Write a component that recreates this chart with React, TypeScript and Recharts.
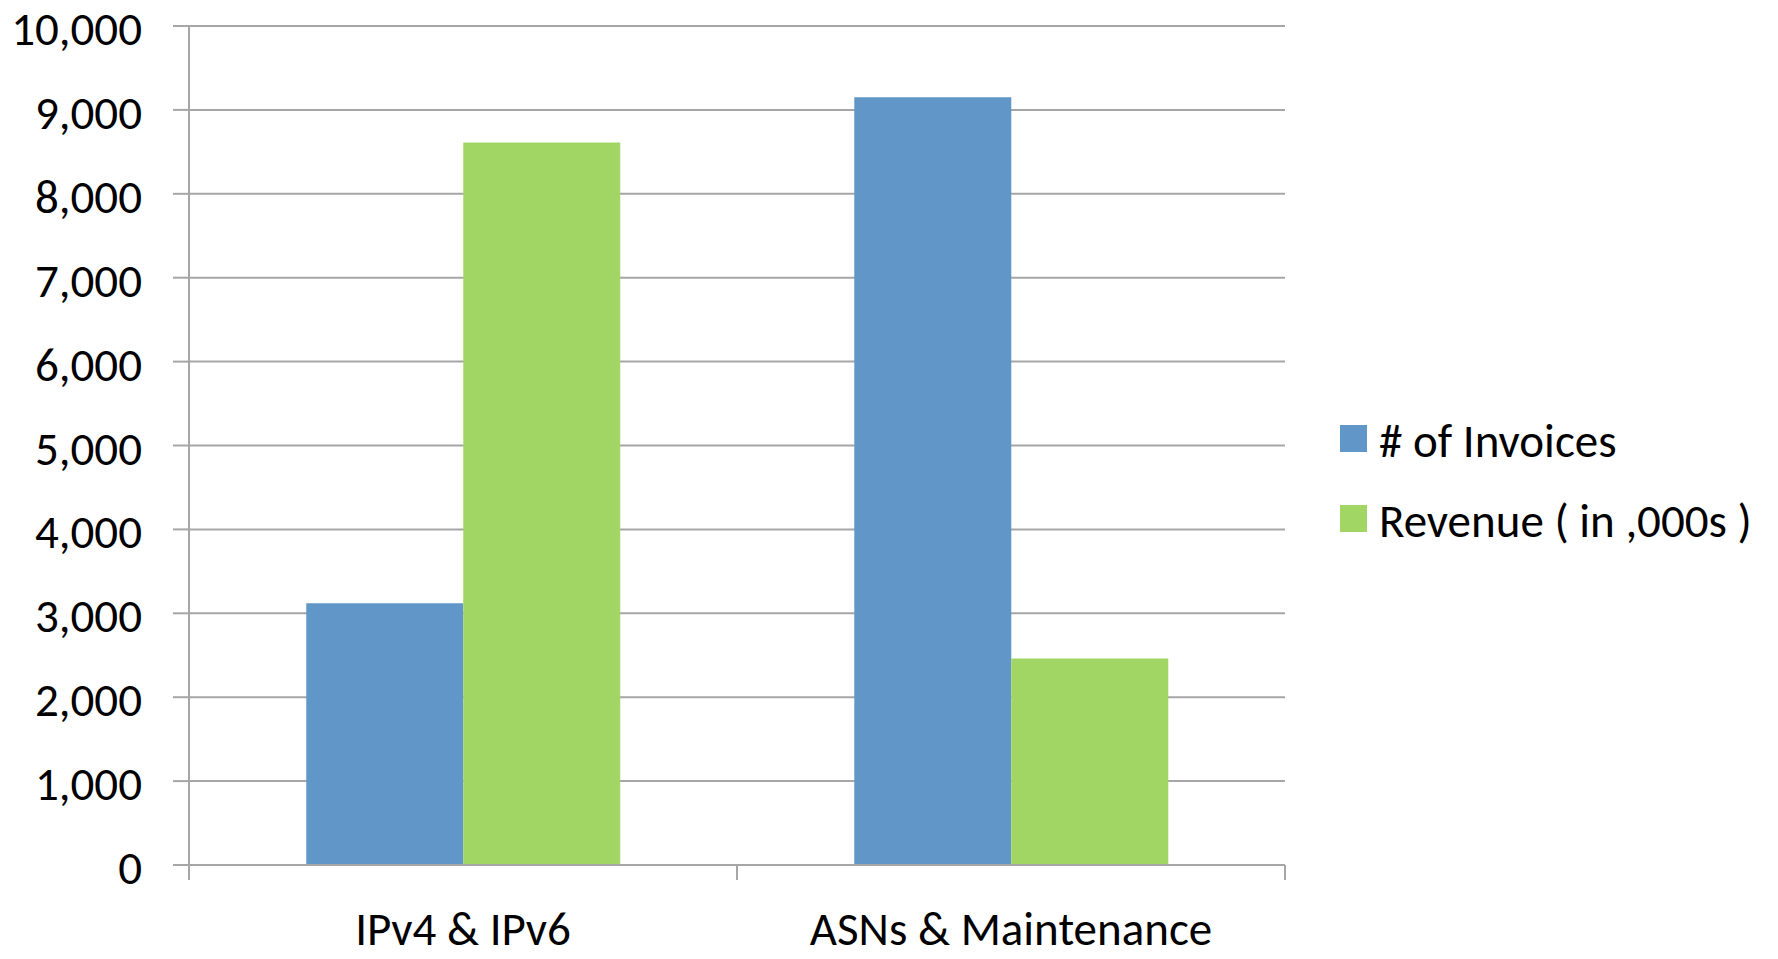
import { BarChart, Bar, XAxis, YAxis, CartesianGrid } from "recharts";

const categories = ["IPv4 & IPv6", "ASNs & Maintenance"];
const invoices = [3120, 9150];
const revenue = [8610, 2460];
const yTicks = [0, 1000, 2000, 3000, 4000, 5000, 6000, 7000, 8000, 9000, 10000];
const seriesNames = ["# of Invoices", "Revenue ( in ,000s )"];
const seriesColors = ["#6196C9", "#A2D664"];

const FONT = "Carlito, Calibri, Lato, sans-serif";
const FONT_SIZE = 47;
const GRID = "#A6A6A6";

const data = categories.map((name, i) => ({
  name,
  invoices: invoices[i],
  revenue: revenue[i],
}));

function CategoryTick(props: any) {
  const { x, y, payload, index, visibleTicksCount } = props;
  const half = payload && payload.offset ? payload.offset : 274;
  const last = index === visibleTicksCount - 1;
  return (
    <g>
      <line x1={x - half} x2={x - half} y1={y} y2={y + 15} stroke={GRID} strokeWidth={2} />
      {last && (
        <line x1={x + half} x2={x + half} y1={y} y2={y + 15} stroke={GRID} strokeWidth={2} />
      )}
      <text x={x} y={y + 80} textAnchor="middle" fill="#000" fontSize={FONT_SIZE} fontFamily={FONT}>
        {payload.value}
      </text>
    </g>
  );
}

function ValueTick(props: any) {
  const { x, y, payload } = props;
  return (
    <text
      x={x}
      y={y + 19}
      textAnchor="end"
      fill="#000"
      fontSize={FONT_SIZE}
      fontFamily={FONT}
    >
      {Number(payload.value).toLocaleString("en-US")}
    </text>
  );
}

function LegendBox() {
  return (
    <div
      style={{
        position: "absolute",
        left: 1340,
        top: 401,
        fontFamily: FONT,
        fontSize: FONT_SIZE,
        color: "#000",
      }}
    >
      {seriesNames.map((name, i) => (
        <div key={name} style={{ display: "flex", alignItems: "center", height: 80 }}>
          <span
            style={{
              display: "inline-block",
              width: 27,
              height: 27,
              background: seriesColors[i],
              marginRight: 12,
              marginTop: -6,
            }}
          />
          <span style={{ whiteSpace: "nowrap" }}>{name}</span>
        </div>
      ))}
    </div>
  );
}

export default function App() {
  return (
    <div style={{ position: "absolute", left: 0, top: 0, width: 1778, height: 959, background: "#fff" }}>
      <BarChart
        width={1778}
        height={959}
        data={data}
        margin={{ top: 26, right: 493, bottom: 0, left: 0 }}
        barCategoryGap="21.4%"
        barGap={0}
      >
        <CartesianGrid horizontal vertical={false} stroke={GRID} strokeWidth={2} />
        <XAxis
          dataKey="name"
          height={94}
          tickSize={0}
          tickMargin={0}
          axisLine={{ stroke: GRID, strokeWidth: 2 }}
          tickLine={false}
          tick={<CategoryTick />}
          interval={0}
        />
        <YAxis
          width={189}
          domain={[0, 10000]}
          ticks={yTicks}
          tickSize={16}
          tickMargin={31}
          axisLine={{ stroke: GRID, strokeWidth: 2 }}
          tickLine={{ stroke: GRID, strokeWidth: 2 }}
          tick={<ValueTick />}
          interval={0}
        />
        <Bar dataKey="invoices" name={seriesNames[0]} fill={seriesColors[0]} isAnimationActive={false} />
        <Bar dataKey="revenue" name={seriesNames[1]} fill={seriesColors[1]} isAnimationActive={false} />
      </BarChart>
      <LegendBox />
    </div>
  );
}
